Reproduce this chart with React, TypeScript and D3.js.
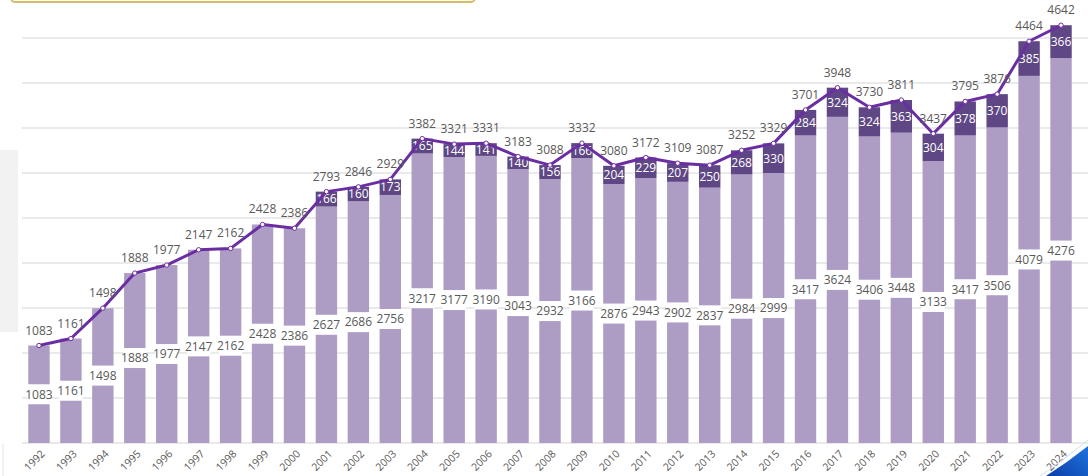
import * as d3 from "d3";

// chart values
const years = [
  "1992", "1993", "1994", "1995", "1996", "1997", "1998", "1999", "2000",
  "2001", "2002", "2003", "2004", "2005", "2006", "2007", "2008", "2009",
  "2010", "2011", "2012", "2013", "2014", "2015", "2016", "2017", "2018",
  "2019", "2020", "2021", "2022", "2023", "2024",
];
const baseValues = [
  1083, 1161, 1498, 1888, 1977, 2147, 2162, 2428, 2386, 2627, 2686, 2756,
  3217, 3177, 3190, 3043, 2932, 3166, 2876, 2943, 2902, 2837, 2984, 2999,
  3417, 3624, 3406, 3448, 3133, 3417, 3506, 4079, 4276,
];
const extraValues = [
  0, 0, 0, 0, 0, 0, 0, 0, 0, 166, 160, 173, 165, 144, 141, 140, 156, 166,
  204, 229, 207, 250, 268, 330, 284, 324, 324, 363, 304, 378, 370, 385, 366,
];
const totalValues = [
  1083, 1161, 1498, 1888, 1977, 2147, 2162, 2428, 2386, 2793, 2846, 2929,
  3382, 3321, 3331, 3183, 3088, 3332, 3080, 3172, 3109, 3087, 3252, 3329,
  3701, 3948, 3730, 3811, 3437, 3795, 3876, 4464, 4642,
];
const gridTicks = [0, 500, 1000, 1500, 2000, 2500, 3000, 3500, 4000, 4500];

const W = 1088;
const H = 476;
const FONT = "'Open Sans', 'Noto Sans', sans-serif";
const LIGHT = "#ad9dc5";
const DARK = "#5e4784";
const LINE = "#6a2ea2";
const TXT = "#595959";

export default function App() {
  const x = d3.scaleBand().domain(years).range([23, 1077]).paddingInner(0.33).paddingOuter(0.165);
  const y = d3.scaleLinear().domain([0, 5000]).range([443, -7]);
  const bw = x.bandwidth();
  const cx = (yr: string) => (x(yr) as number) + bw / 2;

  const line = d3
    .line<number>()
    .x((_, i) => cx(years[i]))
    .y((d) => y(d));

  return (
    <svg
      width={W}
      height={H}
      style={{ position: "absolute", left: 0, top: 0, background: "#fff" }}
      fontFamily={FONT}
    >
      <defs>
        <linearGradient id="blueCorner" x1="0" y1="1" x2="1" y2="0">
          <stop offset="0%" stopColor="#0b3fa8" />
          <stop offset="100%" stopColor="#1f73e0" />
        </linearGradient>
      </defs>

      {/* decorations around the chart */}
      <rect x={11} y={-20} width={464} height={22} rx={4} fill="#fffbe8" stroke="#d2bd6c" strokeWidth={2} />
      <rect x={-4} y={150} width={22} height={182} fill="#f2f2f2" />
      <line x1={3} x2={3} y1={444} y2={476} stroke="#e4e4e4" />

      {/* gridlines */}
      {gridTicks.map((t) => (
        <line key={t} x1={22} x2={W} y1={y(t)} y2={y(t)} stroke="#e3e3e3" strokeWidth={1.3} />
      ))}

      {/* base bars */}
      {years.map((yr, i) => (
        <rect
          key={"b" + yr}
          x={x(yr)}
          y={y(baseValues[i])}
          width={bw}
          height={y(0) - y(baseValues[i])}
          fill={LIGHT}
        />
      ))}

      {/* stacked top segment */}
      {years.map((yr, i) =>
        extraValues[i] > 0 ? (
          <rect
            key={"d" + yr}
            x={x(yr)}
            y={y(totalValues[i])}
            width={bw}
            height={y(baseValues[i]) - y(totalValues[i])}
            fill={DARK}
          />
        ) : null
      )}

      {/* base labels on white band */}
      {years.map((yr, i) => {
        const my = y(baseValues[i] / 2);
        return (
          <g key={"bl" + yr}>
            <rect x={(x(yr) as number) - 1} y={my - 10} width={bw + 2} height={20} fill="#fff" />
            <text x={cx(yr)} y={my} dy="0.36em" textAnchor="middle" fontSize={12} fill={TXT}>
              {baseValues[i]}
            </text>
          </g>
        );
      })}

      {/* top segment labels */}
      {years.map((yr, i) =>
        extraValues[i] > 0 ? (
          <text
            key={"dl" + yr}
            x={cx(yr)}
            y={y(baseValues[i] + extraValues[i] / 2)}
            dy="0.36em"
            textAnchor="middle"
            fontSize={12}
            fill="#fff"
          >
            {extraValues[i]}
          </text>
        ) : null
      )}

      {/* total line */}
      <path d={line(totalValues) as string} fill="none" stroke={LINE} strokeWidth={3} strokeLinejoin="round" />
      {years.map((yr, i) => (
        <circle key={"m" + yr} cx={cx(yr)} cy={y(totalValues[i])} r={2.2} fill="#fff" stroke={LINE} strokeWidth={1} />
      ))}
      {years.map((yr, i) => (
        <text
          key={"tl" + yr}
          x={cx(yr)}
          y={y(totalValues[i]) - 11}
          textAnchor="middle"
          fontSize={12}
          fill={TXT}
        >
          {totalValues[i]}
        </text>
      ))}

      {/* x axis labels, rotated */}
      {years.map((yr) => (
        <g key={"x" + yr} transform={`translate(${cx(yr) + 4},${452}) rotate(-45)`}>
          <text textAnchor="end" dy="0.35em" fontSize={10.5} fill={TXT}>
            {yr}
          </text>
        </g>
      ))}

      <path d="M1046,476 Q1068,462 1088,446 L1088,476 Z" fill="url(#blueCorner)" />
      <path d="M1040,476 Q1064,460 1088,440" fill="none" stroke="#cfe0f7" strokeWidth={1} />
    </svg>
  );
}
